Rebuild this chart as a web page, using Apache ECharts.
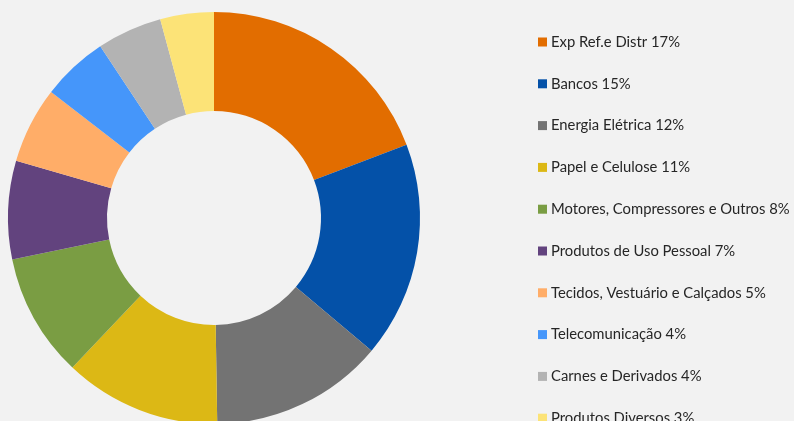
<!DOCTYPE html>
<html>
<head>
<meta charset="utf-8">
<script src="https://cdn.jsdelivr.net/npm/echarts@6/dist/echarts.min.js"></script>
<style>
  html, body { margin: 0; padding: 0; background: #f2f2f2; }
  #chart { width: 794px; height: 421px; }
</style>
</head>
<body>
<div id="chart"></div>
<script>
// categories and legend percentages as printed
const categories = [
  'Exp Ref.e Distr', 'Bancos', 'Energia Elétrica', 'Papel e Celulose',
  'Motores, Compressores e Outros', 'Produtos de Uso Pessoal',
  'Tecidos, Vestuário e Calçados', 'Telecomunicação', 'Carnes e Derivados',
  'Produtos Diversos'
]
const labelPct = [17, 15, 12, 11, 8, 7, 5, 4, 4, 3]
// slice sizes
const values = [19.2, 16.9, 13.6, 12.3, 9.7, 7.7, 6.0, 5.2, 5.1, 4.2]
const colors = ['#e26d00', '#0451a8', '#737373', '#dcb815', '#7a9d43',
  '#62437e', '#ffad68', '#4596fa', '#b3b3b3', '#fce377']

const chart = echarts.init(document.getElementById('chart'))

const names = categories.map((c, i) => c + ' ' + labelPct[i] + '%')

chart.setOption({
  backgroundColor: '#f2f2f2',
  color: colors,
  animation: false,
  legend: {
    orient: 'vertical',
    left: 533,
    top: 29,
    height: 600,
    icon: 'rect',
    itemWidth: 9,
    itemHeight: 9,
    itemGap: 25.8,
    padding: 5,
    data: names,
    textStyle: {
      fontFamily: 'Lato, "Open Sans", sans-serif',
      fontSize: 14.8,
      lineHeight: 16,
      color: '#262626',
      padding: [0, 0, 0, -1]
    }
  },
  series: [{
    type: 'pie',
    center: [214, 218],
    radius: [107, 206],
    startAngle: 90,
    label: { show: false },
    labelLine: { show: false },
    emphasis: { disabled: true },
    data: names.map((n, i) => ({ name: n, value: values[i] }))
  }]
})
</script>
</body>
</html>
